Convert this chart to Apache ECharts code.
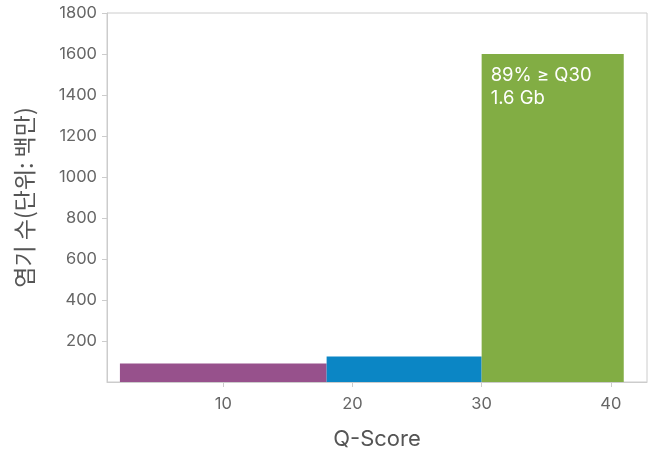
<!DOCTYPE html>
<html>
<head>
<meta charset="utf-8">
<script src="https://cdn.jsdelivr.net/npm/echarts@6/dist/echarts.min.js"></script>
<style>html,body{margin:0;padding:0;background:#fff}#c{width:654px;height:456px}</style>
</head>
<body>
<div id="c"></div>
<script>
// Bins: start Q-score, end Q-score, bases (millions)
const binStart = [2, 18, 30];
const binEnd = [18, 30, 41];
const binValues = [90, 125, 1600];
const binColors = ['#97518c', '#0b86c5', '#82ad44'];
const binLabels = ['', '', '89% ≥ Q30\n1.6 Gb'];
const xTicks = [10, 20, 30, 40];
const yTicks = [200, 400, 600, 800, 1000, 1200, 1400, 1600, 1800];

const data = binStart.map((s, i) => [s, binEnd[i], binValues[i], i]);

const chart = echarts.init(document.getElementById('c'));
chart.setOption({
  animation: false,
  textStyle: { fontFamily: 'Inter, Roboto, "Noto Sans CJK KR", sans-serif' },
  grid: { left: 107, right: 7, top: 13, bottom: 74, show: true, borderColor: '#cccccc', borderWidth: 1 },
  xAxis: {
    type: 'value', min: 1, max: 42.8,
    name: 'Q-Score', nameLocation: 'middle', nameGap: 46,
    nameTextStyle: { fontSize: 22, color: '#555' },
    splitLine: { show: false },
    axisLine: { lineStyle: { color: '#cccccc' } },
    axisTick: { show: true, length: 5, lineStyle: { color: '#cccccc' }, customValues: xTicks },
    axisLabel: { fontSize: 16.5, color: '#666', margin: 14, customValues: xTicks }
  },
  yAxis: {
    type: 'value', min: 0, max: 1800, interval: 200,
    name: '염기 수(단위: 백만)', nameLocation: 'middle', nameGap: 71,
    nameTextStyle: { fontSize: 23, color: '#555', fontFamily: '"Noto Sans CJK KR", sans-serif' },
    splitLine: { show: false },
    axisLine: { show: true, lineStyle: { color: '#cccccc' } },
    axisTick: { show: true, length: 5, lineStyle: { color: '#cccccc' } },
    axisLabel: { fontSize: 16.5, color: '#666', margin: 10, showMinLabel: false,
      formatter: v => yTicks.indexOf(v) >= 0 ? String(v) : '' }
  },
  series: [{
    type: 'custom',
    data: data,
    encode: { x: [0, 1], y: 2 },
    renderItem: function (params, api) {
      const x0 = api.value(0), x1 = api.value(1), v = api.value(2), idx = api.value(3);
      const p0 = api.coord([x0, v]);
      const p1 = api.coord([x1, 0]);
      const children = [{
        type: 'rect',
        shape: { x: p0[0], y: p0[1], width: p1[0] - p0[0], height: p1[1] - p0[1] },
        style: { fill: binColors[idx] }
      }];
      if (binLabels[idx]) {
        children.push({
          type: 'text',
          x: p0[0] + 9, y: p0[1] + 10,
          style: { text: binLabels[idx], fill: '#fff', fontSize: 18.5, lineHeight: 23,
            fontFamily: 'Inter, Roboto, sans-serif', verticalAlign: 'top' }
        });
      }
      return { type: 'group', children: children };
    }
  }]
});
</script>
</body>
</html>
